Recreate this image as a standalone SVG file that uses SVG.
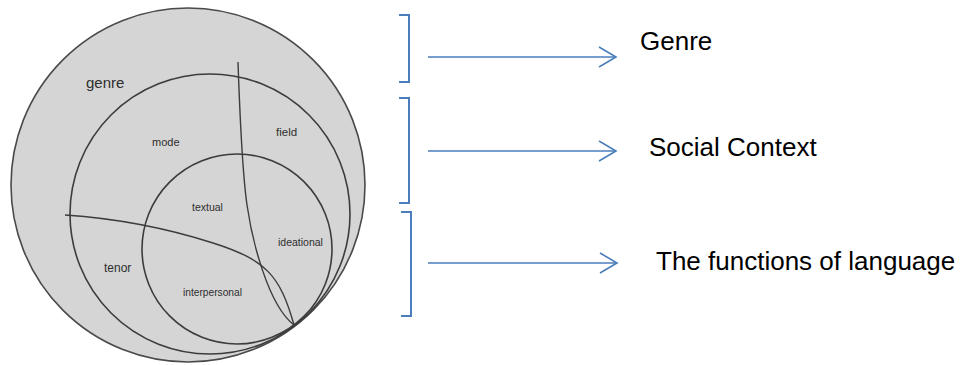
<svg xmlns="http://www.w3.org/2000/svg" width="964" height="365" viewBox="0 0 964 365">
  <defs>
    <style>
      .ring { fill: #d5d5d5; stroke: #4a4a4a; stroke-width: 1.6; }
      .ring2 { fill: none; stroke: #3c3c3c; stroke-width: 1.6; }
      .div { fill: none; stroke: #3c3c3c; stroke-width: 1.4; }
      .lab { font-family: "Liberation Sans", Arial, sans-serif; fill: #2e2e2e; }
      .big { font-family: "Liberation Sans", Arial, sans-serif; font-size: 26px; fill: #000; }
      .br { fill: none; stroke: #4a7ebb; stroke-width: 2; }
      .ar { fill: none; stroke: #4a7ebb; stroke-width: 1.6; }
    </style>
    <marker id="open" viewBox="0 0 20 22" refX="18" refY="11" markerWidth="20" markerHeight="22" markerUnits="userSpaceOnUse" orient="auto">
      <path d="M1,1 L18,11 L1,21" fill="none" stroke="#4a7ebb" stroke-width="1.6"/>
    </marker>
  </defs>

  <g id="genre">
    <circle class="ring" cx="188" cy="185" r="177"/>
    <text class="lab" x="86" y="88" font-size="15">genre</text>
  </g>

  <g id="social-context">
    <circle class="ring2" cx="210" cy="214" r="140"/>
    <text class="lab" x="152" y="146" font-size="11">mode</text>
    <text class="lab" x="276" y="136" font-size="11.5">field</text>
    <text class="lab" x="104" y="272" font-size="12">tenor</text>
  </g>

  <g id="functions">
    <circle class="ring2" cx="237" cy="249" r="95"/>
    <text class="lab" x="192" y="211" font-size="10.5">textual</text>
    <text class="lab" x="278" y="246" font-size="10.5">ideational</text>
    <text class="lab" x="183" y="296" font-size="10.2">interpersonal</text>
  </g>

  <g id="dividers">
    <path class="div" d="M238,62 C240,120 242,170 247,205 S 268,305 294,325"/>
    <path class="div" d="M65,215 C110,218 160,226 213,243 S 280,275 294,325"/>
  </g>

  <g id="brackets">
    <path class="br" d="M399,15 H409 V82 H399"/>
    <path class="br" d="M399,98 H409 V203 H399"/>
    <path class="br" d="M401,212 H411 V316 H401"/>
  </g>

  <g id="connectors">
    <line class="ar" x1="428" y1="57" x2="616" y2="57" marker-end="url(#open)"/>
    <line class="ar" x1="428" y1="151" x2="616" y2="151" marker-end="url(#open)"/>
    <line class="ar" x1="428" y1="263" x2="617" y2="263" marker-end="url(#open)"/>
  </g>

  <g id="labels">
    <text class="big" x="640" y="50">Genre</text>
    <text class="big" x="649" y="156">Social Context</text>
    <text class="big" x="656" y="270">The functions of language</text>
  </g>
</svg>
